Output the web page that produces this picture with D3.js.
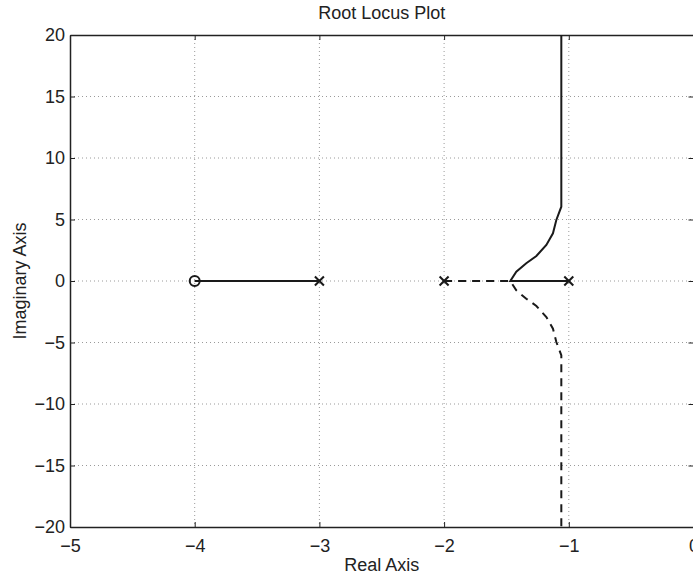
<!DOCTYPE html>
<html>
<head>
<meta charset="utf-8">
<script src="https://cdn.jsdelivr.net/npm/d3@7"></script>
<style>
  html, body { margin: 0; padding: 0; background: #fff; }
  svg { display: block; }
  text { font-family: "Liberation Sans", Arial, Helvetica, sans-serif; fill: #222; }
</style>
</head>
<body>
<svg id="chart" width="693" height="575"></svg>
<script>
// ---- data ----
const xTicks = [-5, -4, -3, -2, -1, 0];
const yTicks = [-20, -15, -10, -5, 0, 5, 10, 15, 20];
const zerosRe = [-4];
const polesRe = [-3, -2, -1];
// branch from pole -3 to zero -4 (solid)
const branch1 = [[-3, 0], [-4, 0]];
// branch from pole -1 through breakaway, then upper half-plane (solid)
const branch3Re = [-1, -1.469, -1.421, -1.341, -1.260, -1.180, -1.127, -1.100, -1.060, -1.060];
const branch3Im = [0, 0, 0.76, 1.44, 2.03, 2.93, 3.88, 4.96, 6.04, 20];
// branch from pole -2 through breakaway, then lower half-plane (dashed)
const branch2Re = [-2, -1.469, -1.421, -1.341, -1.260, -1.180, -1.127, -1.100, -1.060, -1.060];
const branch2Im = [0, 0, -0.76, -1.44, -2.03, -2.93, -3.88, -4.96, -6.04, -20];

// ---- layout ----
const svg = d3.select("#chart");
const L = 70, R = 693.5, T = 35, B = 527;
const x = d3.scaleLinear().domain([-5, 0]).range([L, R]);
const y = d3.scaleLinear().domain([-20, 20]).range([B, T]);
const fmt = d => d3.format("d")(d);
const fs = "18px";

// grid
const grid = svg.append("g").attr("stroke", "#9a9a9a").attr("stroke-width", 1).attr("stroke-dasharray", "1,3");
grid.selectAll(".gx").data(xTicks.slice(1, -1)).join("line")
  .attr("x1", d => x(d)).attr("x2", d => x(d)).attr("y1", T).attr("y2", B);
grid.selectAll(".gy").data(yTicks.slice(1, -1)).join("line")
  .attr("x1", L).attr("x2", R).attr("y1", d => y(d)).attr("y2", d => y(d));

// axes
function styleAxis(g) {
  g.select(".domain").attr("stroke", "#222").attr("stroke-width", 1.5);
  g.selectAll(".tick line").attr("stroke", "#222").attr("stroke-width", 1);
  g.selectAll(".tick text").attr("font-size", fs).attr("fill", "#222")
    .style("font-family", '"Liberation Sans", Arial, sans-serif');
}
svg.append("g").attr("transform", `translate(0,${B})`)
  .call(d3.axisBottom(x).tickValues(xTicks).tickFormat(fmt).tickSizeInner(-5).tickSizeOuter(0).tickPadding(12))
  .call(styleAxis);
svg.append("g").attr("transform", `translate(0,${T})`)
  .call(d3.axisTop(x).tickValues(xTicks).tickFormat("").tickSizeInner(-5).tickSizeOuter(0))
  .call(styleAxis);
svg.append("g").attr("transform", `translate(${L},0)`)
  .call(d3.axisLeft(y).tickValues(yTicks).tickFormat(fmt).tickSizeInner(-5).tickSizeOuter(0).tickPadding(5))
  .call(styleAxis);
svg.append("g").attr("transform", `translate(${R},0)`)
  .call(d3.axisRight(y).tickValues(yTicks).tickFormat("").tickSizeInner(-5).tickSizeOuter(0))
  .call(styleAxis);

// locus lines
const line = d3.line().x(d => x(d[0])).y(d => y(d[1]));
const locus = svg.append("g").attr("fill", "none").attr("stroke", "#1a1a1a").attr("stroke-width", 2);
locus.append("path").attr("d", line(branch1));
locus.append("path").attr("d", line(d3.zip(branch3Re, branch3Im)));
locus.append("path").attr("d", line(d3.zip(branch2Re, branch2Im))).attr("stroke-dasharray", "8,6");

// markers
const m = 4.5;
const pg = svg.append("g").attr("stroke", "#1a1a1a").attr("stroke-width", 2);
polesRe.forEach(p => {
  pg.append("line").attr("x1", x(p) - m).attr("x2", x(p) + m).attr("y1", y(0) - m).attr("y2", y(0) + m);
  pg.append("line").attr("x1", x(p) - m).attr("x2", x(p) + m).attr("y1", y(0) + m).attr("y2", y(0) - m);
});
svg.append("g").selectAll("circle").data(zerosRe).join("circle")
  .attr("cx", d => x(d)).attr("cy", y(0)).attr("r", 5)
  .attr("fill", "none").attr("stroke", "#1a1a1a").attr("stroke-width", 2);

// labels
svg.append("text").attr("x", (L + R) / 2).attr("y", 19).attr("text-anchor", "middle")
  .attr("font-size", fs).text("Root Locus Plot");
svg.append("text").attr("x", (L + R) / 2).attr("y", 571).attr("text-anchor", "middle")
  .attr("font-size", fs).text("Real Axis");
svg.append("text").attr("transform", `translate(26,${(T + B) / 2}) rotate(-90)`).attr("text-anchor", "middle")
  .attr("font-size", fs).text("Imaginary Axis");
</script>
</body>
</html>
